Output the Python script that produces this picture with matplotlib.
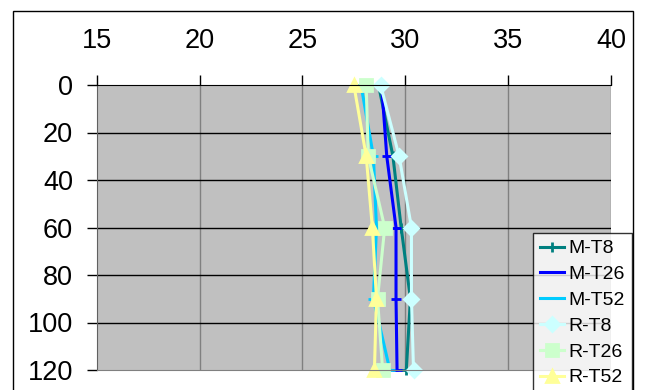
import matplotlib
matplotlib.use('Agg')
import matplotlib.pyplot as plt
from matplotlib.patches import Rectangle

plt.rcParams['font.family'] = ['Liberation Sans', 'DejaVu Sans']

# depth (y) and temperature readings per series
depth = [0, 30, 60, 90, 120]
m_t8 = [28.7, 29.4, 29.8, 30.25, 30.05]
m_t26 = [28.85, 29.1, 29.55, 29.55, 29.6]
m_t52 = [27.85, 28.45, 28.6, 28.45, 29.25]
r_t8 = [28.8, 29.7, 30.3, 30.3, 30.4]
r_t26 = [28.1, 28.2, 29.0, 28.65, 28.9]
r_t52 = [27.5, 28.1, 28.4, 28.6, 28.5]

names = ['M-T8', 'M-T26', 'M-T52', 'R-T8', 'R-T26', 'R-T52']
series = [m_t8, m_t26, m_t52, r_t8, r_t26, r_t52]
colors = ['#008080', '#0000FF', '#00CCFF', '#CCFFFF', '#CCFFCC', '#FFFF99']
markers = ['+', '_', '_', 'D', 's', '^']
msizes = [7, 7, 7, 7, 8, 9]

xticks = [15, 20, 25, 30, 35, 40]
yticks = [0, 20, 40, 60, 80, 100, 120]

fig = plt.figure(figsize=(6.46, 3.9), dpi=100)
ax = fig.add_axes([96.7 / 646, 1 - 370 / 390, (611 - 96.7) / 646, (370 - 85) / 390])
ax.set_facecolor('#C0C0C0')

for name, vals, c, m, ms in zip(names, series, colors, markers, msizes):
    ax.plot(vals, depth, color=c, lw=2.2, marker=m, markersize=ms,
            markerfacecolor=c, markeredgecolor=c, markeredgewidth=2,
            label=name, clip_on=False)

ax.set_xlim(15, 40)
ax.set_ylim(120, 0)
ax.set_xticks(xticks)
ax.set_yticks(yticks)
ax.xaxis.tick_top()
ax.tick_params(axis='x', direction='out', length=7, width=1, labelsize=19.5, pad=15)
ax.tick_params(axis='y', direction='out', length=7, width=1, labelsize=19.5, pad=10)

for x in xticks[1:]:
    ax.axvline(x, color='#808080', lw=1, zorder=0.5)
for y in yticks[1:-1]:
    ax.axhline(y, color='#000000', lw=1, zorder=0.5)

ax.spines['top'].set_color('black')
ax.spines['left'].set_color('#606060')
ax.spines['bottom'].set_color('#808080')
ax.spines['right'].set_visible(False)

leg = ax.legend(loc='upper right', bbox_to_anchor=(632 / 646, 1 - 233 / 390),
                bbox_transform=fig.transFigure, fontsize=14, frameon=True,
                fancybox=False, borderpad=0.35, labelspacing=0.42,
                handlelength=1.25, handletextpad=0.25, borderaxespad=0)
leg.get_frame().set_edgecolor('black')
leg.get_frame().set_linewidth(1)

# outer chart border
fig.patches.append(Rectangle((13 / 646, -0.1), (633 - 13) / 646, 1.1 - 11 / 390,
                             transform=fig.transFigure, fill=False,
                             edgecolor='black', lw=1))

fig.savefig('out.png', dpi=100)
